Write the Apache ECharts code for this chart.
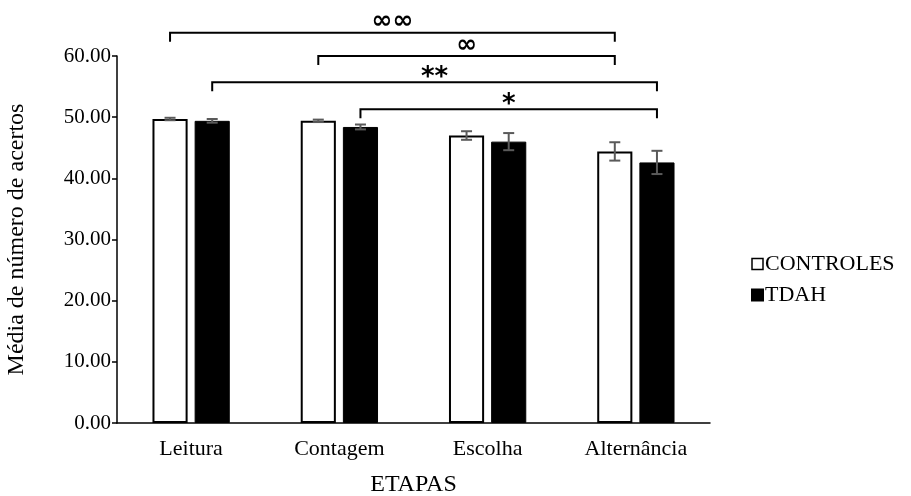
<!DOCTYPE html>
<html><head><meta charset="utf-8">
<script src="https://cdn.jsdelivr.net/npm/echarts@6/dist/echarts.min.js"></script>
<style>html,body{margin:0;padding:0;background:#fff}#c{width:911px;height:496px}</style>
</head><body><div id="c"></div>
<script>
var categories = ['Leitura', 'Contagem', 'Escolha', 'Alternância'];
var controles = [49.7, 49.4, 47.0, 44.4];
var tdah = [49.4, 48.4, 46.0, 42.6];
var errControles = [0.2, 0.2, 0.7, 1.5];
var errTdah = [0.3, 0.4, 1.4, 1.9];
var yTicks = [0, 10, 20, 30, 40, 50, 60];
// brackets: [startCategory, startSeries(0=CONTROLES,1=TDAH), endCategory, endSeries, level, label]
var brackets = [
  [0, 0, 3, 0, 63.8, '∞∞'],
  [1, 0, 3, 0, 60.0, '∞'],
  [0, 1, 3, 1, 55.7, '**'],
  [1, 1, 3, 1, 51.3, '*']
];

var FONT = 'Liberation Serif';
var BAR_W = 0.237, BAR_GAP = 0.2;
function offsetFor(api, s) {
  var band = api.size([1, 0])[0];
  var w = band * BAR_W;
  var d = (w + w * BAR_GAP) / 2;
  return s === 0 ? -d : d;
}
function errItem(vals, errs, s) {
  return function (params, api) {
    var i = api.value(0);
    var c = api.coord([i, vals[i]]);
    var x = c[0] + offsetFor(api, s);
    var hi = api.coord([i, vals[i] + errs[i]])[1];
    var lo = api.coord([i, vals[i] - errs[i]])[1];
    var cap = 5.5;
    var st = {stroke: '#5a5a5a', lineWidth: 2};
    return {type: 'group', children: [
      {type: 'line', shape: {x1: x, y1: hi, x2: x, y2: lo}, style: st},
      {type: 'line', shape: {x1: x - cap, y1: hi, x2: x + cap, y2: hi}, style: st},
      {type: 'line', shape: {x1: x - cap, y1: lo, x2: x + cap, y2: lo}, style: st}
    ]};
  };
}
var chart = echarts.init(document.getElementById('c'));
chart.setOption({
  animation: false,
  grid: {left: 117, right: 201, top: 56, bottom: 73, containLabel: false, outerBoundsMode: 'none'},
  legend: {
    orient: 'vertical', left: 746, top: 248, itemWidth: 11, itemHeight: 11, itemGap: 9,
    icon: 'rect', textStyle: {fontFamily: FONT, fontSize: 22, color: '#000', padding: [0, 0, 0, -3]},
    data: [
      {name: 'CONTROLES', itemStyle: {color: '#fff', borderColor: '#000', borderWidth: 1.5}},
      {name: 'TDAH', itemStyle: {color: '#000'}}
    ]
  },
  xAxis: {
    type: 'category', data: categories,
    name: 'ETAPAS', nameLocation: 'middle', nameGap: 50,
    nameTextStyle: {fontFamily: FONT, fontSize: 24, color: '#000'},
    axisLine: {lineStyle: {color: '#000', width: 1.5}},
    axisTick: {show: false},
    axisLabel: {fontFamily: FONT, fontSize: 22, color: '#000', margin: 15}
  },
  yAxis: {
    type: 'value', min: 0, max: 60, interval: 10,
    name: 'Média de número de acertos', nameLocation: 'middle', nameGap: 88,
    nameTextStyle: {fontFamily: FONT, fontSize: 24, color: '#000'},
    axisLine: {show: true, lineStyle: {color: '#000', width: 1.5}},
    axisTick: {show: true, length: 5, lineStyle: {color: '#000', width: 1.5}},
    splitLine: {show: false},
    axisLabel: {fontFamily: FONT, fontSize: 21, color: '#000', margin: 6,
      formatter: function (v) { return yTicks.indexOf(v) >= 0 ? v.toFixed(2) : ''; }}
  },
  series: [
    {name: 'CONTROLES', type: 'bar', data: controles, barWidth: (BAR_W * 100) + '%', barGap: (BAR_GAP * 100) + '%',
      itemStyle: {color: '#fff', borderColor: '#000', borderWidth: 2}},
    {name: 'TDAH', type: 'bar', data: tdah, barWidth: (BAR_W * 100) + '%',
      itemStyle: {color: '#000', borderColor: '#000', borderWidth: 1}},
    {type: 'custom', data: categories.map(function (c, i) { return [i]; }), renderItem: errItem(controles, errControles, 0), z: 5, silent: true},
    {type: 'custom', data: categories.map(function (c, i) { return [i]; }), renderItem: errItem(tdah, errTdah, 1), z: 5, silent: true},
    {type: 'custom', clip: false, silent: true, z: 6,
      data: brackets,
      renderItem: function (params, api) {
        var b = brackets[params.dataIndex];
        var x1 = api.coord([b[0], 0])[0] + offsetFor(api, b[1]);
        var x2 = api.coord([b[2], 0])[0] + offsetFor(api, b[3]);
        var y = api.coord([0, b[4]])[1];
        var drop = 9;
        var st = {stroke: '#000', lineWidth: 2, fill: null};
        var isStar = b[5].indexOf('*') >= 0;
        return {type: 'group', children: [
          {type: 'polyline', shape: {points: [[x1, y + drop], [x1, y], [x2, y], [x2, y + drop]]}, style: st},
          {type: 'text', style: {text: b[5], x: (x1 + x2) / 2, y: y - (isStar ? 4 : 11), textAlign: 'center', textVerticalAlign: 'middle',
            font: 'bold ' + (isStar ? 26 : 25) + 'px DejaVu Sans', fill: '#000'}}
        ]};
      }}
  ]
});
</script></body></html>
